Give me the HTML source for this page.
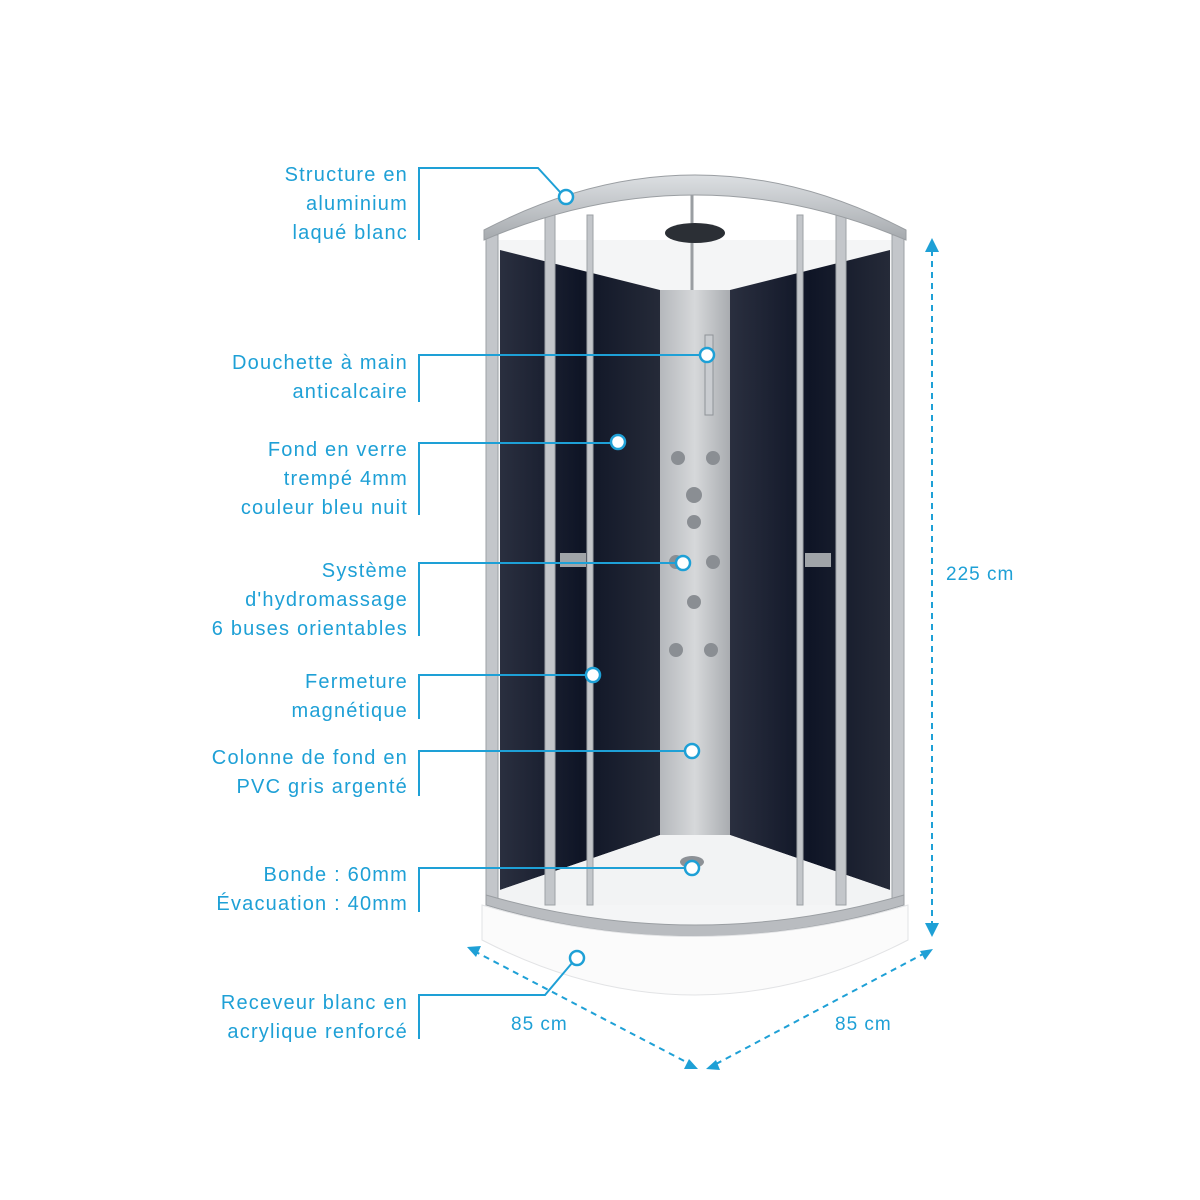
<!DOCTYPE html>
<html><head><meta charset="utf-8"><style>
html,body{margin:0;padding:0;background:#fff;}
svg{display:block}
.t{font-family:"Liberation Sans Narrow","Liberation Sans",sans-serif;font-size:20px;fill:#1ea0d6;letter-spacing:1.2px;text-anchor:end}
.d{font-family:"Liberation Sans Narrow","Liberation Sans",sans-serif;font-size:19px;fill:#1ea0d6;letter-spacing:1px}
.l{stroke:#1ea0d6;stroke-width:2;fill:none}
.dot{fill:#fff;stroke:#1ea0d6;stroke-width:2.5}
.da{stroke:#1ea0d6;stroke-width:2;stroke-dasharray:6,5;fill:none}
</style></head><body>
<svg width="1200" height="1200" viewBox="0 0 1200 1200">
<defs>
<linearGradient id="dark" x1="0" x2="1"><stop offset="0" stop-color="#2a2f3f"/><stop offset="0.5" stop-color="#0f1526"/><stop offset="1" stop-color="#252a38"/></linearGradient>
<linearGradient id="col" x1="0" x2="1"><stop offset="0" stop-color="#b5b8bc"/><stop offset="0.5" stop-color="#d6d8da"/><stop offset="1" stop-color="#a9acb0"/></linearGradient>
<linearGradient id="frame" x1="0" x2="0" y1="0" y2="1"><stop offset="0" stop-color="#dcdfe2"/><stop offset="1" stop-color="#a6aaae"/></linearGradient>
</defs>
<!-- shower background -->
<rect x="490" y="240" width="410" height="690" fill="#f4f5f6"/>
<polygon points="500,250 660,290 660,835 500,890" fill="url(#dark)"/>
<polygon points="730,290 890,250 890,890 730,835" fill="url(#dark)"/>
<rect x="660" y="290" width="70" height="545" fill="url(#col)"/>
<polygon points="500,890 660,835 730,835 890,890 890,905 500,905" fill="#f2f3f4"/>
<ellipse cx="692" cy="862" rx="12" ry="6" fill="#8d9196"/>
<!-- shower head -->
<line x1="692" y1="195" x2="692" y2="290" stroke="#9a9ea2" stroke-width="3"/>
<ellipse cx="695" cy="233" rx="30" ry="10" fill="#2b2f35"/>
<rect x="705" y="335" width="8" height="80" fill="#c9ccd0" stroke="#8f9398"/>
<g fill="#8a8e93"><circle cx="678" cy="458" r="7"/><circle cx="713" cy="458" r="7"/><circle cx="694" cy="495" r="8"/><circle cx="694" cy="522" r="7"/><circle cx="676" cy="562" r="7"/><circle cx="713" cy="562" r="7"/><circle cx="694" cy="602" r="7"/><circle cx="676" cy="650" r="7"/><circle cx="711" cy="650" r="7"/></g>
<!-- frame verticals -->
<g fill="#c3c6ca" stroke="#9ea2a6" stroke-width="1">
<rect x="486" y="235" width="12" height="670"/><rect x="892" y="235" width="12" height="670"/>
<rect x="545" y="215" width="10" height="690"/><rect x="587" y="215" width="6" height="690"/>
<rect x="797" y="215" width="6" height="690"/><rect x="836" y="215" width="10" height="690"/>
</g>
<rect x="560" y="553" width="26" height="14" fill="#a0a4a8"/><rect x="805" y="553" width="26" height="14" fill="#a0a4a8"/>
<!-- top arc -->
<path d="M484,240 L484,230 Q695,120 906,230 L906,240 Q695,150 484,240 Z" fill="url(#frame)" stroke="#9a9ea2"/>
<!-- bottom frame arc -->
<path d="M486,895 Q695,955 904,895 L904,905 Q695,968 486,905 Z" fill="#b9bcc0" stroke="#9a9ea2"/>
<!-- tray -->
<path d="M482,905 L482,940 Q695,1050 908,940 L908,905 Q695,968 482,905 Z" fill="#fbfbfb" stroke="#e2e3e5"/>
<!-- dimension arrows -->
<line class="da" x1="932" y1="250" x2="932" y2="925"/>
<path d="M925,252 L932,238 L939,252" fill="#1ea0d6"/><path d="M925,923 L932,937 L939,923" fill="#1ea0d6"/>
<line class="da" x1="474" y1="951" x2="690" y2="1064"/>
<path d="M467,947 L481,946 L476,957Z" fill="#1ea0d6"/><path d="M698,1069 L684,1069 L689,1059Z" fill="#1ea0d6"/>
<line class="da" x1="716" y1="1064" x2="925" y2="953"/>
<path d="M706,1069 L716,1060 L720,1070Z" fill="#1ea0d6"/><path d="M933,949 L920,951 L925,960Z" fill="#1ea0d6"/>
<text class="d" x="946" y="580">225 cm</text>
<text class="d" x="511" y="1030">85 cm</text>
<text class="d" x="835" y="1030">85 cm</text>
<!-- callouts -->
<path class="l" d="M419,240 V168 H538 L560,192"/><circle class="dot" cx="566" cy="197" r="7"/>
<text class="t" x="408" y="181">Structure en</text><text class="t" x="408" y="210">aluminium</text><text class="t" x="408" y="239">laqué blanc</text>
<path class="l" d="M419,402 V355 H700"/><circle class="dot" cx="707" cy="355" r="7"/>
<text class="t" x="408" y="369">Douchette à main</text><text class="t" x="408" y="398">anticalcaire</text>
<path class="l" d="M419,515 V443 H611"/><circle class="dot" cx="618" cy="442" r="7"/>
<text class="t" x="408" y="456">Fond en verre</text><text class="t" x="408" y="485">trempé 4mm</text><text class="t" x="408" y="514">couleur bleu nuit</text>
<path class="l" d="M419,636 V563 H676"/><circle class="dot" cx="683" cy="563" r="7"/>
<text class="t" x="408" y="577">Système</text><text class="t" x="408" y="606">d'hydromassage</text><text class="t" x="408" y="635">6 buses orientables</text>
<path class="l" d="M419,719 V675 H586"/><circle class="dot" cx="593" cy="675" r="7"/>
<text class="t" x="408" y="688">Fermeture</text><text class="t" x="408" y="717">magnétique</text>
<path class="l" d="M419,796 V751 H685"/><circle class="dot" cx="692" cy="751" r="7"/>
<text class="t" x="408" y="764">Colonne de fond en</text><text class="t" x="408" y="793">PVC gris argenté</text>
<path class="l" d="M419,912 V868 H685"/><circle class="dot" cx="692" cy="868" r="7"/>
<text class="t" x="408" y="881">Bonde : 60mm</text><text class="t" x="408" y="910">Évacuation : 40mm</text>
<path class="l" d="M419,1039 V995 H545 L572,963"/><circle class="dot" cx="577" cy="958" r="7"/>
<text class="t" x="408" y="1009">Receveur blanc en</text><text class="t" x="408" y="1038">acrylique renforcé</text>
</svg>
</body></html>
